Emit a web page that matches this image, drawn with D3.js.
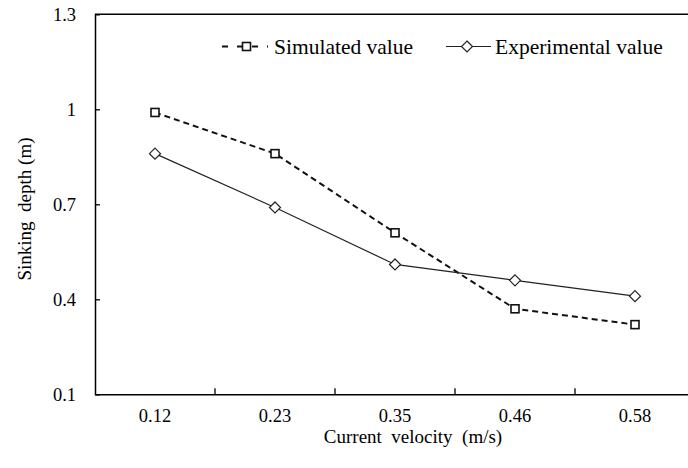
<!DOCTYPE html>
<html>
<head>
<meta charset="utf-8">
<script src="https://cdn.jsdelivr.net/npm/d3@7"></script>
<style>
  html, body { margin: 0; padding: 0; background: #fff; }
  svg { display: block; }
  text { font-family: "Liberation Serif", "Times New Roman", serif; fill: #000; }
</style>
</head>
<body>
<svg id="chart" width="688" height="468"></svg>
<script>
// Current velocity categories (m/s)
const velocities = ["0.12", "0.23", "0.35", "0.46", "0.58"];
// Sinking depth (m)
const simulated = [0.99, 0.86, 0.61, 0.37, 0.32];
const experimental = [0.86, 0.69, 0.51, 0.46, 0.41];
const yTicks = [0.1, 0.4, 0.7, 1.0, 1.3];
const seriesNames = ["Simulated value", "Experimental value"];

const serif = "'Liberation Serif', 'Times New Roman', serif";
const svg = d3.select("#chart");
const plotLeft = 95, plotRight = 695, plotTop = 14.3, plotBottom = 394.3;

const x = d3.scaleBand().domain(velocities).range([plotLeft, plotRight]).padding(0);
const y = d3.scaleLinear().domain([0.1, 1.3]).range([plotBottom, plotTop]);
const cx = d => x(d) + x.bandwidth() / 2;

// Plot frame: top border
svg.append("line")
  .attr("x1", plotLeft).attr("x2", plotRight)
  .attr("y1", y(1.3)).attr("y2", y(1.3))
  .attr("stroke", "#000").attr("stroke-width", 1.5);

// Y axis with inward ticks
const yAxis = svg.append("g")
  .attr("transform", `translate(${plotLeft},0)`)
  .attr("font-family", serif)
  .call(d3.axisLeft(y).tickValues(yTicks).tickSize(-5).tickPadding(19)
    .tickFormat(d => String(+d.toFixed(1))));
yAxis.attr("font-family", serif);
yAxis.select(".domain").attr("stroke", "#000").attr("stroke-width", 1.5);
yAxis.selectAll(".tick line").attr("stroke", "#000").attr("stroke-width", 1.3)
  .filter(d => d === 0.1 || d === 1.3).remove();
yAxis.selectAll(".tick text")
  .attr("font-size", "18.5px")
  .attr("font-family", serif);

// X axis: labels centred on categories, ticks on category boundaries
const xAxis = svg.append("g")
  .attr("transform", `translate(0,${plotBottom})`)
  .call(d3.axisBottom(x).tickSize(0).tickPadding(15));
xAxis.attr("font-family", serif);
xAxis.select(".domain").attr("stroke", "#000").attr("stroke-width", 1.5);
xAxis.selectAll(".tick text")
  .attr("font-size", "18.5px")
  .attr("font-family", serif);
svg.append("g").selectAll("line")
  .data(velocities.slice(1))
  .join("line")
  .attr("x1", d => x(d)).attr("x2", d => x(d))
  .attr("y1", plotBottom).attr("y2", plotBottom - 6)
  .attr("stroke", "#000").attr("stroke-width", 1.3);

// Axis titles
svg.append("text")
  .attr("x", 413).attr("y", 443)
  .attr("text-anchor", "middle")
  .attr("font-size", "19px")
  .attr("font-family", serif)
  .style("white-space", "pre")
  .text("Current  velocity  (m/s)");
svg.append("text")
  .attr("transform", "translate(31,209) rotate(-90)")
  .attr("text-anchor", "middle")
  .attr("font-size", "19px")
  .attr("font-family", serif)
  .style("white-space", "pre")
  .text("Sinking  depth (m)");

// Series lines
const line = d3.line().x((d, i) => cx(velocities[i])).y(d => y(d));
svg.append("path")
  .datum(simulated)
  .attr("d", line)
  .attr("fill", "none").attr("stroke", "#111")
  .attr("stroke-width", 2).attr("stroke-dasharray", "6,4");
svg.append("path")
  .datum(experimental)
  .attr("d", line)
  .attr("fill", "none").attr("stroke", "#222")
  .attr("stroke-width", 1.2);

// Markers
const sq = 8, dm = 5.5;
function square(g, px, py) {
  g.append("rect")
    .attr("x", px - sq / 2).attr("y", py - sq / 2)
    .attr("width", sq).attr("height", sq)
    .attr("fill", "#fff").attr("stroke", "#111").attr("stroke-width", 1.6);
}
function diamond(g, px, py) {
  g.append("path")
    .attr("d", `M${px},${py - dm}L${px + dm},${py}L${px},${py + dm}L${px - dm},${py}Z`)
    .attr("fill", "#fff").attr("stroke", "#222").attr("stroke-width", 1.2);
}
const markers = svg.append("g");
simulated.forEach((v, i) => square(markers, cx(velocities[i]), y(v)));
experimental.forEach((v, i) => diamond(markers, cx(velocities[i]), y(v)));

// Legend
const ly = 46.5;
const legend = svg.append("g").attr("font-family", serif);
legend.append("line")
  .attr("x1", 222).attr("x2", 268).attr("y1", ly).attr("y2", ly)
  .attr("stroke", "#111").attr("stroke-width", 2).attr("stroke-dasharray", "6,9");
square(legend, 246.5, ly);
legend.append("text")
  .attr("x", 274).attr("y", ly + 7)
  .attr("font-size", "21.5px")
  .attr("font-family", serif)
  .text(seriesNames[0]);
legend.append("line")
  .attr("x1", 446).attr("x2", 491).attr("y1", ly).attr("y2", ly)
  .attr("stroke", "#222").attr("stroke-width", 1.2);
diamond(legend, 467, ly);
legend.append("text")
  .attr("x", 495).attr("y", ly + 7)
  .attr("font-size", "21.5px")
  .attr("font-family", serif)
  .text(seriesNames[1]);
</script>
</body>
</html>
